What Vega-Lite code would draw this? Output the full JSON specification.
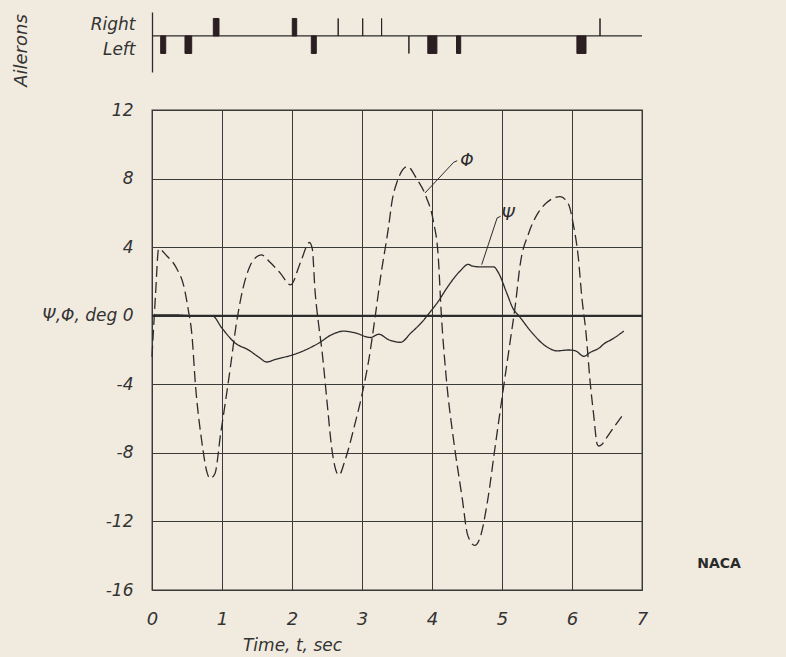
{
  "$schema": "https://vega.github.io/schema/vega-lite/v6.json",
  "background": "#f1eadf",
  "padding": {"left": 12, "top": 12, "right": 45, "bottom": 5},
  "bounds": "flush",
  "spacing": 38,
  "config": {
    "font": "DejaVu Sans",
    "axis": {
      "labelColor": "#333333",
      "titleColor": "#333333",
      "labelFontStyle": "italic",
      "titleFontStyle": "italic",
      "titleFontWeight": "normal",
      "labelOverlap": false,
      "labelFlush": false
    }
  },
  "datasets": {
    "curves": [
      {"series": "Φ", "t": 0.0, "deg": -2.4},
      {"series": "Φ", "t": 0.05, "deg": 1.2},
      {"series": "Φ", "t": 0.095, "deg": 3.9},
      {"series": "Φ", "t": 0.21, "deg": 3.5},
      {"series": "Φ", "t": 0.36, "deg": 2.7},
      {"series": "Φ", "t": 0.45, "deg": 1.8},
      {"series": "Φ", "t": 0.52, "deg": 0.3},
      {"series": "Φ", "t": 0.57, "deg": -1.1},
      {"series": "Φ", "t": 0.62, "deg": -4.0},
      {"series": "Φ", "t": 0.71, "deg": -7.3},
      {"series": "Φ", "t": 0.79, "deg": -9.2},
      {"series": "Φ", "t": 0.83, "deg": -9.5},
      {"series": "Φ", "t": 0.9, "deg": -9.2},
      {"series": "Φ", "t": 0.98, "deg": -6.9},
      {"series": "Φ", "t": 1.05, "deg": -5.0},
      {"series": "Φ", "t": 1.12, "deg": -3.0},
      {"series": "Φ", "t": 1.2, "deg": -0.6},
      {"series": "Φ", "t": 1.3, "deg": 1.6},
      {"series": "Φ", "t": 1.4, "deg": 2.9},
      {"series": "Φ", "t": 1.5, "deg": 3.45},
      {"series": "Φ", "t": 1.56, "deg": 3.55},
      {"series": "Φ", "t": 1.69, "deg": 3.1},
      {"series": "Φ", "t": 1.83, "deg": 2.5},
      {"series": "Φ", "t": 1.98, "deg": 1.8},
      {"series": "Φ", "t": 2.12, "deg": 3.1},
      {"series": "Φ", "t": 2.25, "deg": 4.27},
      {"series": "Φ", "t": 2.29, "deg": 3.9},
      {"series": "Φ", "t": 2.33, "deg": 1.4},
      {"series": "Φ", "t": 2.38, "deg": -0.5},
      {"series": "Φ", "t": 2.43, "deg": -2.1},
      {"series": "Φ", "t": 2.5, "deg": -5.0},
      {"series": "Φ", "t": 2.57, "deg": -7.8},
      {"series": "Φ", "t": 2.67, "deg": -9.3},
      {"series": "Φ", "t": 2.76, "deg": -8.4},
      {"series": "Φ", "t": 2.9, "deg": -6.3},
      {"series": "Φ", "t": 3.0, "deg": -4.6},
      {"series": "Φ", "t": 3.1, "deg": -2.5},
      {"series": "Φ", "t": 3.19, "deg": 0.0},
      {"series": "Φ", "t": 3.26, "deg": 2.1},
      {"series": "Φ", "t": 3.38, "deg": 5.2},
      {"series": "Φ", "t": 3.43, "deg": 6.7},
      {"series": "Φ", "t": 3.5, "deg": 7.8},
      {"series": "Φ", "t": 3.65, "deg": 8.7},
      {"series": "Φ", "t": 3.78, "deg": 8.0},
      {"series": "Φ", "t": 3.92, "deg": 6.9},
      {"series": "Φ", "t": 4.02, "deg": 5.5},
      {"series": "Φ", "t": 4.09, "deg": 3.4},
      {"series": "Φ", "t": 4.13, "deg": 0.3},
      {"series": "Φ", "t": 4.21, "deg": -3.9},
      {"series": "Φ", "t": 4.31, "deg": -7.3},
      {"series": "Φ", "t": 4.43, "deg": -10.6},
      {"series": "Φ", "t": 4.51, "deg": -12.8},
      {"series": "Φ", "t": 4.61, "deg": -13.4},
      {"series": "Φ", "t": 4.69, "deg": -12.9},
      {"series": "Φ", "t": 4.79, "deg": -10.9},
      {"series": "Φ", "t": 4.9, "deg": -7.7},
      {"series": "Φ", "t": 5.0, "deg": -4.8},
      {"series": "Φ", "t": 5.12, "deg": -1.4},
      {"series": "Φ", "t": 5.19, "deg": 0.6},
      {"series": "Φ", "t": 5.26, "deg": 3.0},
      {"series": "Φ", "t": 5.38, "deg": 4.8},
      {"series": "Φ", "t": 5.5, "deg": 5.9},
      {"series": "Φ", "t": 5.64, "deg": 6.6},
      {"series": "Φ", "t": 5.83, "deg": 6.95},
      {"series": "Φ", "t": 5.95, "deg": 6.5},
      {"series": "Φ", "t": 6.02, "deg": 5.3},
      {"series": "Φ", "t": 6.09, "deg": 3.4},
      {"series": "Φ", "t": 6.14, "deg": 1.1},
      {"series": "Φ", "t": 6.2, "deg": -1.0},
      {"series": "Φ", "t": 6.26, "deg": -3.9},
      {"series": "Φ", "t": 6.31, "deg": -5.8},
      {"series": "Φ", "t": 6.36, "deg": -7.5},
      {"series": "Φ", "t": 6.38, "deg": -7.6},
      {"series": "Φ", "t": 6.43, "deg": -7.5},
      {"series": "Φ", "t": 6.48, "deg": -7.2},
      {"series": "Φ", "t": 6.74, "deg": -5.7},
      {"series": "Ψ", "t": 0.0, "deg": -0.05},
      {"series": "Ψ", "t": 0.05, "deg": 0.05},
      {"series": "Ψ", "t": 0.3, "deg": 0.05},
      {"series": "Ψ", "t": 0.6, "deg": 0.0},
      {"series": "Ψ", "t": 0.86, "deg": 0.0},
      {"series": "Ψ", "t": 1.0, "deg": -0.73},
      {"series": "Ψ", "t": 1.19, "deg": -1.6},
      {"series": "Ψ", "t": 1.38, "deg": -2.0},
      {"series": "Ψ", "t": 1.52, "deg": -2.4},
      {"series": "Ψ", "t": 1.64, "deg": -2.7},
      {"series": "Ψ", "t": 1.76, "deg": -2.55},
      {"series": "Ψ", "t": 2.0, "deg": -2.3},
      {"series": "Ψ", "t": 2.19, "deg": -2.0},
      {"series": "Ψ", "t": 2.38, "deg": -1.6},
      {"series": "Ψ", "t": 2.57, "deg": -1.1},
      {"series": "Ψ", "t": 2.74, "deg": -0.9},
      {"series": "Ψ", "t": 2.9, "deg": -1.0},
      {"series": "Ψ", "t": 3.12, "deg": -1.27},
      {"series": "Ψ", "t": 3.24, "deg": -1.08},
      {"series": "Ψ", "t": 3.38, "deg": -1.4},
      {"series": "Ψ", "t": 3.55, "deg": -1.55},
      {"series": "Ψ", "t": 3.7, "deg": -1.0},
      {"series": "Ψ", "t": 3.85, "deg": -0.4},
      {"series": "Ψ", "t": 3.97, "deg": 0.2},
      {"series": "Ψ", "t": 4.1, "deg": 0.9},
      {"series": "Ψ", "t": 4.21, "deg": 1.6},
      {"series": "Ψ", "t": 4.4, "deg": 2.6},
      {"series": "Ψ", "t": 4.52, "deg": 3.0},
      {"series": "Ψ", "t": 4.57, "deg": 2.9},
      {"series": "Ψ", "t": 4.69, "deg": 2.85},
      {"series": "Ψ", "t": 4.88, "deg": 2.85},
      {"series": "Ψ", "t": 4.95, "deg": 2.5},
      {"series": "Ψ", "t": 5.07, "deg": 1.3},
      {"series": "Ψ", "t": 5.16, "deg": 0.4},
      {"series": "Ψ", "t": 5.24, "deg": 0.0},
      {"series": "Ψ", "t": 5.43, "deg": -1.0},
      {"series": "Ψ", "t": 5.62, "deg": -1.76},
      {"series": "Ψ", "t": 5.79, "deg": -2.05},
      {"series": "Ψ", "t": 5.95, "deg": -2.0},
      {"series": "Ψ", "t": 6.05, "deg": -2.05},
      {"series": "Ψ", "t": 6.17, "deg": -2.37},
      {"series": "Ψ", "t": 6.26, "deg": -2.14},
      {"series": "Ψ", "t": 6.4, "deg": -1.85},
      {"series": "Ψ", "t": 6.45, "deg": -1.66},
      {"series": "Ψ", "t": 6.57, "deg": -1.38},
      {"series": "Ψ", "t": 6.74, "deg": -0.9}
    ],
    "leaders": [
      {"label": "Φ", "t": 3.9, "deg": 7.16},
      {"label": "Φ", "t": 4.31, "deg": 8.95},
      {"label": "Φ", "t": 4.36, "deg": 9.04},
      {"label": "Ψ", "t": 4.71, "deg": 2.98},
      {"label": "Ψ", "t": 4.93, "deg": 5.7},
      {"label": "Ψ", "t": 4.98, "deg": 5.8}
    ],
    "notes": [
      {"label": "Φ", "t": 4.5, "deg": 9.0},
      {"label": "Ψ", "t": 5.09, "deg": 5.9}
    ],
    "logo": [
      {"label": "NACA", "t": 8.1, "deg": -14.47}
    ],
    "ailerons": [
      {"side": "Left", "start": 0.124, "end": 0.196, "dir": -1},
      {"side": "Left", "start": 0.471, "end": 0.567, "dir": -1},
      {"side": "Right", "start": 0.876, "end": 0.957, "dir": 1},
      {"side": "Right", "start": 2.004, "end": 2.067, "dir": 1},
      {"side": "Left", "start": 2.276, "end": 2.347, "dir": -1},
      {"side": "Right", "start": 2.66, "end": 2.66, "dir": 1},
      {"side": "Right", "start": 3.01, "end": 3.01, "dir": 1},
      {"side": "Right", "start": 3.28, "end": 3.28, "dir": 1},
      {"side": "Left", "start": 3.67, "end": 3.67, "dir": -1},
      {"side": "Left", "start": 3.94, "end": 4.07, "dir": -1},
      {"side": "Left", "start": 4.35, "end": 4.41, "dir": -1},
      {"side": "Left", "start": 6.07, "end": 6.2, "dir": -1},
      {"side": "Right", "start": 6.4, "end": 6.4, "dir": 1}
    ]
  },
  "vconcat": [
    {
      "width": 490,
      "height": 60,
      "view": {"stroke": null},
      "layer": [
        {
          "data": {"values": [{"base": "neutral"}]},
          "mark": {"type": "rule", "color": "#2b2b2b", "strokeWidth": 1.3},
          "encoding": {
            "y": {
              "datum": 0,
              "type": "quantitative",
              "scale": {"domain": [-2.06, 1.37], "nice": false, "zero": false},
              "axis": {
                "values": [0.63, -0.8],
                "labelExpr": "datum.value > 0 ? 'Right' : 'Left'",
                "domain": true,
                "domainColor": "#2b2b2b",
                "domainWidth": 1.3,
                "ticks": false,
                "grid": false,
                "labelPadding": 17,
                "labelFontSize": 17,
                "labelBaseline": "middle",
                "title": "Ailerons",
                "titleFontSize": 18,
                "titleAngle": -90,
                "titleX": -122,
                "titleY": 38,
                "titleAlign": "center",
                "titleBaseline": "bottom"
              }
            }
          }
        },
        {
          "data": {"name": "ailerons"},
          "mark": {"type": "rect", "color": "#2b1f22", "stroke": "#2b1f22", "strokeWidth": 1},
          "encoding": {
            "x": {"field": "start", "type": "quantitative", "scale": {"domain": [0, 7], "nice": false, "zero": false}, "axis": null},
            "x2": {"field": "end"},
            "y": {"field": "dir", "type": "quantitative"},
            "y2": {"datum": 0}
          }
        }
      ]
    },
    {
      "width": 490,
      "height": 480,
      "view": {"stroke": "#333333", "strokeWidth": 1.3},
      "layer": [
        {
          "data": {"name": "curves"},
          "mark": {"type": "line", "color": "#2b2b2b", "strokeWidth": 1.3, "interpolate": "monotone"},
          "encoding": {
            "x": {
              "field": "t",
              "type": "quantitative",
              "scale": {"domain": [0, 7], "nice": false, "zero": false},
              "axis": {
                "values": [0, 0.5, 1, 1.5, 2, 2.5, 3, 3.5, 4, 4.5, 5, 5.5, 6, 6.5, 7],
                "labelExpr": "datum.value % 1 == 0 ? '' + datum.value : ''",
                "grid": true,
                "gridColor": "#3a3a3a",
                "gridWidth": 1,
                "gridOpacity": 1,
                "domain": false,
                "ticks": false,
                "labelFontSize": 18,
                "labelPadding": 20,
                "labelDx": -4,
                "title": "Time, t, sec",
                "titleFontSize": 17,
                "titleX": 140,
                "titleY": 55,
                "titleAlign": "center",
                "titleBaseline": "middle"
              }
            },
            "y": {
              "field": "deg",
              "type": "quantitative",
              "scale": {"domain": [-16, 12], "nice": false, "zero": false},
              "axis": {
                "values": [-16, -14, -12, -10, -8, -6, -4, -2, 0, 2, 4, 6, 8, 10, 12],
                "labelExpr": "datum.value % 4 == 0 ? (datum.value == 0 ? 'Ψ,Φ, deg  0' : '' + datum.value) : ''",
                "grid": true,
                "gridColor": "#3a3a3a",
                "gridWidth": 1,
                "gridOpacity": 1,
                "domain": false,
                "ticks": false,
                "labelFontSize": 17,
                "labelPadding": 19,
                "title": null
              }
            },
            "strokeDash": {
              "field": "series",
              "type": "nominal",
              "scale": {"domain": ["Φ", "Ψ"], "range": [[11, 5], [1, 0]]},
              "legend": null
            }
          }
        },
        {
          "data": {"values": [{"base": "zero"}]},
          "mark": {"type": "rule", "color": "#2b2b2b", "strokeWidth": 2},
          "encoding": {"y": {"datum": 0, "type": "quantitative"}}
        },
        {
          "data": {"name": "leaders"},
          "mark": {"type": "line", "color": "#2b2b2b", "strokeWidth": 1},
          "encoding": {
            "x": {"field": "t", "type": "quantitative"},
            "y": {"field": "deg", "type": "quantitative"},
            "detail": {"field": "label", "type": "nominal"}
          }
        },
        {
          "data": {"name": "notes"},
          "mark": {"type": "text", "color": "#2b2b2b", "fontSize": 17, "fontStyle": "italic", "align": "center", "baseline": "middle"},
          "encoding": {
            "x": {"field": "t", "type": "quantitative"},
            "y": {"field": "deg", "type": "quantitative"},
            "text": {"field": "label"}
          }
        },
        {
          "data": {"name": "logo"},
          "mark": {"type": "text", "color": "#2b2b2b", "fontSize": 14, "fontWeight": "bold", "align": "center", "baseline": "middle"},
          "encoding": {
            "x": {"field": "t", "type": "quantitative"},
            "y": {"field": "deg", "type": "quantitative"},
            "text": {"field": "label"}
          }
        }
      ]
    }
  ]
}
